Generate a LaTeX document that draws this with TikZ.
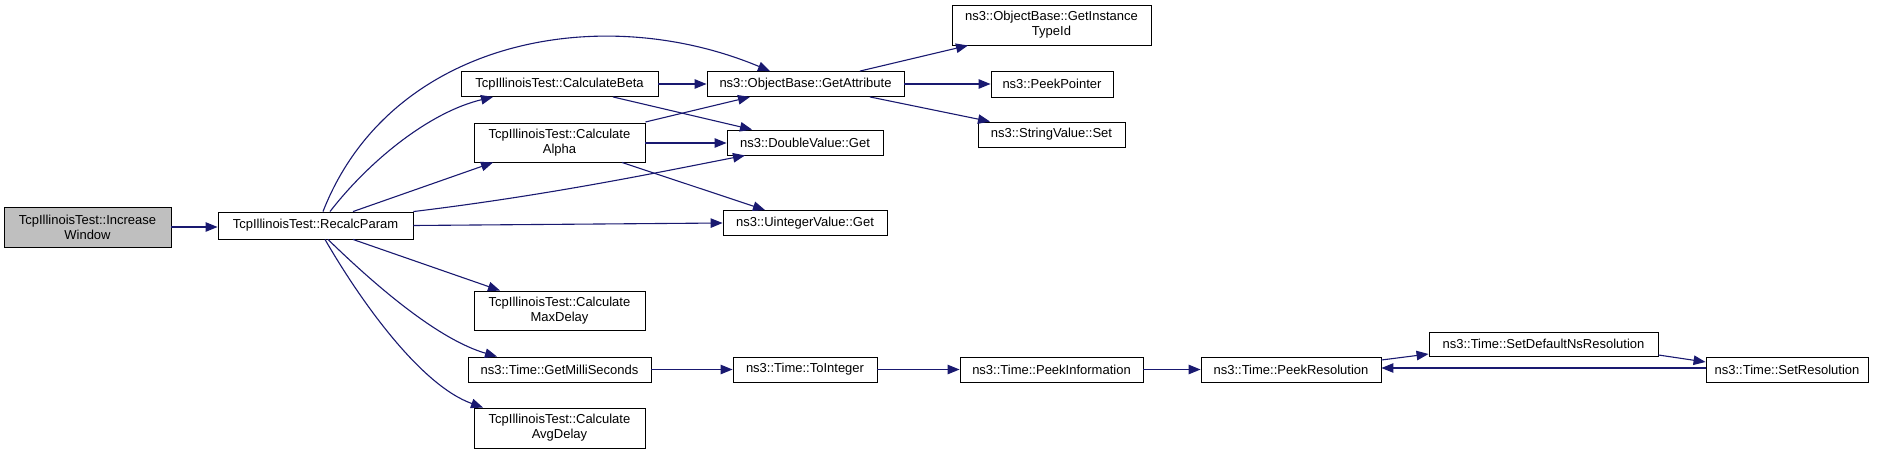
\documentclass[tikz,border=0pt]{standalone}
\usepackage{fontspec}
\setmainfont{Liberation Sans}
\usetikzlibrary{arrows.meta}
\definecolor{edgeblue}{RGB}{25,25,112}
\definecolor{curgray}{RGB}{191,191,191}
\tikzset{
  fn/.style={draw=black, line width=0.9pt, rectangle, inner sep=0pt, align=center,
    font=\fontsize{13}{15}\selectfont, text=black, fill=white},
  cur/.style={fn, fill=curgray},
  edge/.style={draw=edgeblue, line width=1.1pt, -{Triangle[length=12pt,width=9.5pt]}}
}
\begin{document}
\begin{tikzpicture}[x=1pt,y=-1pt]
\useasboundingbox (0,0) rectangle (1883,455);
% nodes
\node[cur, minimum width=167pt, minimum height=40pt] (IW) at (87.5,227) {TcpIllinoisTest::Increase\\Window};
\node[fn, minimum width=195pt, minimum height=27pt] (RP) at (315.5,225.5) {TcpIllinoisTest::RecalcParam};
\node[fn, minimum width=197pt, minimum height=25pt] (CB) at (559.5,84) {TcpIllinoisTest::CalculateBeta};
\node[fn, minimum width=197pt, minimum height=25pt] (GA) at (805.5,84) {ns3::ObjectBase::GetAttribute};
\node[fn, minimum width=171pt, minimum height=39pt] (CA) at (559.5,142.5) {TcpIllinoisTest::Calculate\\Alpha};
\node[fn, minimum width=156pt, minimum height=25pt] (DV) at (805,142.5) {ns3::DoubleValue::Get};
\node[fn, minimum width=164pt, minimum height=25pt] (UV) at (805,223) {ns3::UintegerValue::Get};
\node[fn, minimum width=171pt, minimum height=39pt] (MD) at (559.5,310.5) {TcpIllinoisTest::Calculate\\MaxDelay};
\node[fn, minimum width=183pt, minimum height=25pt] (GM) at (559.5,369.5) {ns3::Time::GetMilliSeconds};
\node[fn, minimum width=171pt, minimum height=40pt] (AD) at (559.5,428) {TcpIllinoisTest::Calculate\\AvgDelay};
\node[fn, minimum width=144pt, minimum height=25pt] (TI) at (805,369.5) {ns3::Time::ToInteger};
\node[fn, minimum width=199pt, minimum height=40pt] (GIT) at (1051.5,25) {ns3::ObjectBase::GetInstance\\TypeId};
\node[fn, minimum width=122pt, minimum height=26pt] (PP) at (1052,84) {ns3::PeekPointer};
\node[fn, minimum width=147pt, minimum height=25pt] (SV) at (1051.5,134.5) {ns3::StringValue::Set};
\node[fn, minimum width=183pt, minimum height=25pt] (PI) at (1051.5,369.5) {ns3::Time::PeekInformation};
\node[fn, minimum width=180pt, minimum height=25pt] (PR) at (1291,369.5) {ns3::Time::PeekResolution};
\node[fn, minimum width=229pt, minimum height=24pt] (SD) at (1543.5,344) {ns3::Time::SetDefaultNsResolution};
\node[fn, minimum width=162pt, minimum height=25pt] (SR) at (1787,369.5) {ns3::Time::SetResolution};
% edges
\draw[edge] (IW.east |- 0,227) -- (RP.west |- 0,227);
\draw[edge] (RP.north -| 323,0) .. controls (390,40) and (600,0) .. (GA.north -| 770,0);
\draw[edge] (RP.north -| 330,0) .. controls (370,160) and (430,112) .. (CB.south -| 493,0);
\draw[edge] (RP.north -| 353,0) -- (CA.south -| 493,0);
\draw[edge] (RP.north east) .. controls (550,195) and (660,172) .. (DV.south -| 745,0);
\draw[edge] (RP.east |- 0,225.5) -- (UV.west |- 0,223);
\draw[edge] (RP.south -| 353,0) -- (MD.north -| 500,0);
\draw[edge] (RP.south -| 328,0) .. controls (380,290) and (440,340) .. (GM.north -| 497,0);
\draw[edge] (RP.south -| 325,0) .. controls (360,300) and (420,385) .. (AD.north -| 483,0);
\draw[edge] (CB.east) -- (GA.west);
\draw[edge] (CB.south -| 613,0) -- (DV.north -| 752,0);
\draw[edge] (CA.north east |- 0,122) -- (GA.south -| 750,0);
\draw[edge] (CA.east |- 0,143) -- (DV.west |- 0,143);
\draw[edge] (CA.south -| 622,0) -- (UV.north -| 765,0);
\draw[edge] (GA.north -| 860,0) -- (GIT.south -| 968,0);
\draw[edge] (GA.east) -- (PP.west);
\draw[edge] (GA.south -| 870,0) -- (SV.north -| 990,0);
\draw[edge] (GM.east) -- (TI.west);
\draw[edge] (TI.east) -- (PI.west);
\draw[edge] (PI.east) -- (PR.west);
\draw[edge] (PR.east |- 0,360) -- (SD.west |- 0,354);
\draw[edge] (SD.east |- 0,355) -- (SR.west |- 0,362);
\draw[edge] (SR.west |- 0,368) -- (PR.east |- 0,368);
\end{tikzpicture}
\end{document}
